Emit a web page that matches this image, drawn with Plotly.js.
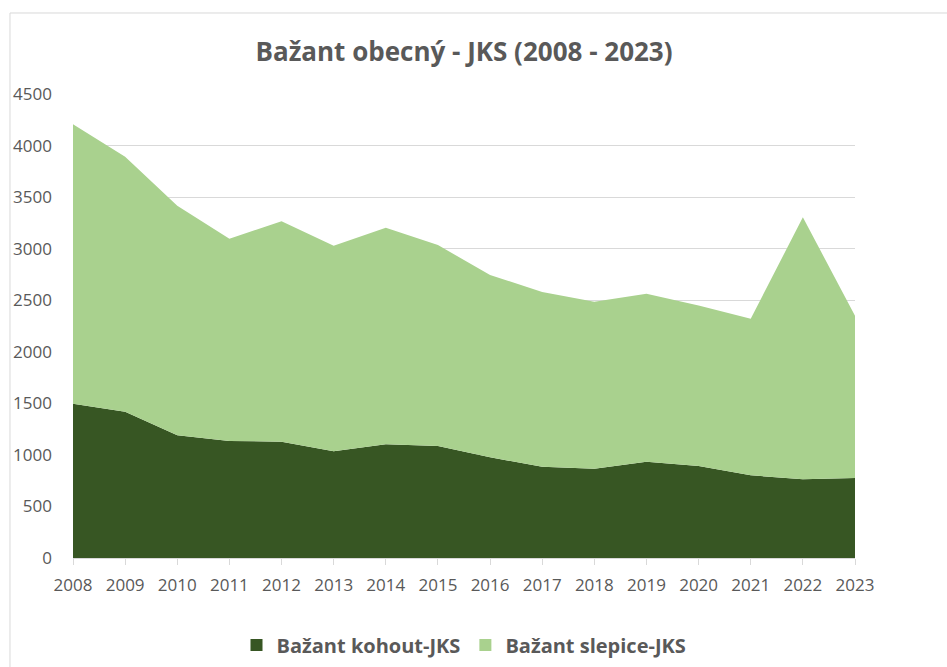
<!DOCTYPE html>
<html>
<head>
<meta charset="utf-8">
<script src="https://cdn.plot.ly/plotly-3.0.1.min.js"></script>
<style>html,body{margin:0;padding:0;background:#fff;}#chart{width:947px;height:667px;}</style>
</head>
<body>
<div id="chart"></div>
<script>
const years = [2008,2009,2010,2011,2012,2013,2014,2015,2016,2017,2018,2019,2020,2021,2022,2023];
const kohout = [1495,1419,1190,1135,1128,1035,1102,1086,976,886,866,934,892,802,763,776];
const slepice = [2711,2473,2227,1962,2137,1994,2102,1949,1769,1694,1620,1629,1558,1519,2541,1574];
const seriesNames = ['Bažant kohout-JKS','Bažant slepice-JKS'];
const seriesColors = ['#375623', '#a9d18e'];
const chartTitle = 'Bažant obecný - JKS (2008 - 2023)';

const textColor = '#595959';
const font = 'Open Sans, Noto Sans, sans-serif';

const traces = [
  {x: years, y: kohout, name: seriesNames[0], type: 'scatter', mode: 'lines', stackgroup: 'one',
   line: {width: 0, color: seriesColors[0]}, fillcolor: seriesColors[0], showlegend: false},
  {x: years, y: slepice, name: seriesNames[1], type: 'scatter', mode: 'lines', stackgroup: 'one',
   line: {width: 0, color: seriesColors[1]}, fillcolor: seriesColors[1], showlegend: false},
  // legend-only entries with square swatches
  {x: [null], y: [null], name: seriesNames[0], type: 'scatter', mode: 'markers',
   marker: {symbol: 'square', size: 13, color: seriesColors[0]}, showlegend: true},
  {x: [null], y: [null], name: seriesNames[1], type: 'scatter', mode: 'markers',
   marker: {symbol: 'square', size: 13, color: seriesColors[1]}, showlegend: true}
];

const layout = {
  width: 947, height: 667,
  margin: {l: 73, r: 92, t: 94, b: 109},
  paper_bgcolor: '#fff', plot_bgcolor: '#fff',
  font: {family: font, color: textColor},
  title: {text: '<b>' + chartTitle + '</b>', x: 0.5, xref: 'paper', y: 0.922, yref: 'container', yanchor: 'middle',
          font: {size: 26, color: textColor, family: font}},
  xaxis: {range: [2008, 2023], tickmode: 'array', tickvals: years, ticktext: years.map(String),
          showgrid: false, zeroline: false, showline: true, linecolor: '#d9d9d9', linewidth: 1,
          ticks: 'outside', ticklen: 6, tickcolor: '#d9d9d9',
          tickfont: {size: 17, color: textColor, family: font}, ticklabelstandoff: 6, fixedrange: true},
  yaxis: {range: [0, 4500], dtick: 500, tick0: 0, showgrid: true, gridcolor: '#d9d9d9', gridwidth: 1,
          zeroline: false, showline: false, ticks: '',
          tickfont: {size: 17, color: textColor, family: font}, ticklabelstandoff: 20, fixedrange: true},
  showlegend: true,
  legend: {orientation: 'h', x: 0.5, xref: 'paper', xanchor: 'center', y: 0.033, yref: 'container', yanchor: 'middle',
           font: {size: 20, color: textColor, family: font, weight: 'bold'}, traceorder: 'normal',
           itemwidth: 30, itemsizing: 'constant'},
  shapes: [
    {type: 'line', xref: 'paper', yref: 'paper', x0: -0.0806, x1: -0.0806, y0: -0.25, y1: 1.1746,
     line: {color: '#d9d9d9', width: 1}},
    {type: 'line', xref: 'paper', yref: 'paper', x0: -0.0806, x1: 1.2, y0: 1.1746, y1: 1.1746,
     line: {color: '#d9d9d9', width: 1}}
  ]
};

Plotly.newPlot('chart', traces, layout, {displayModeBar: false, staticPlot: true});
</script>
</body>
</html>
